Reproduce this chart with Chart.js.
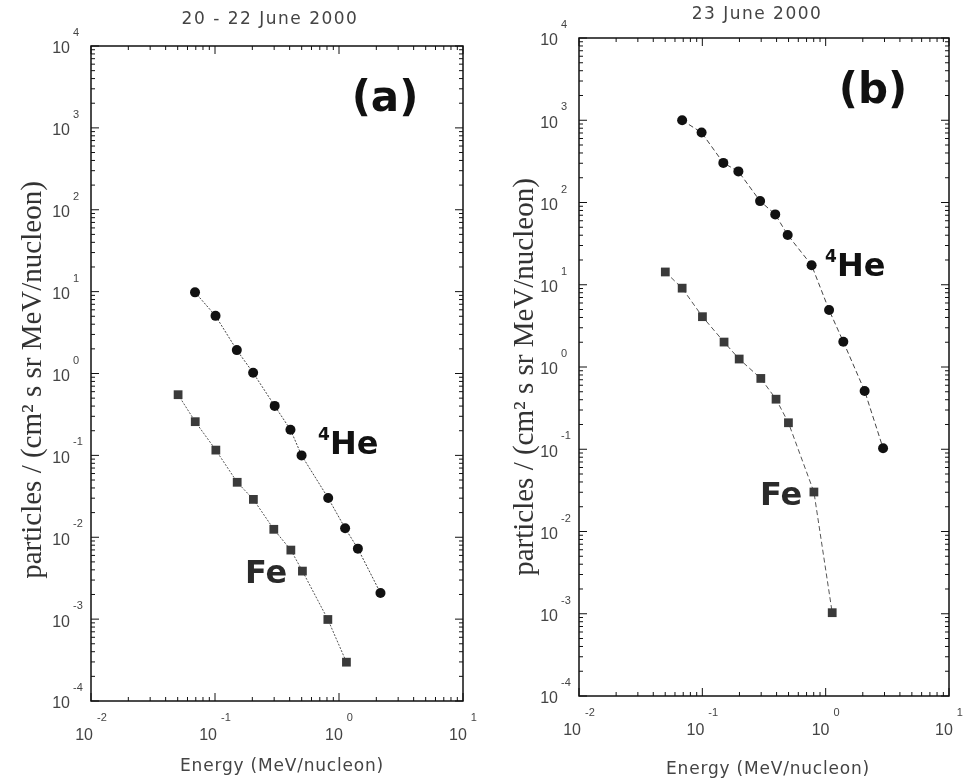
<!DOCTYPE html>
<html lang="en">
<head>
<meta charset="UTF-8" />
<title>Energy spectra, June 2000</title>
<script src="https://cdn.jsdelivr.net/npm/chart.js"></script>
<style>
  html, body { margin: 0; padding: 0; background: #fff; }
  #wrap { position: relative; width: 966px; height: 781px; overflow: hidden; }
  canvas { position: absolute; top: 0; }
  #chartA { left: 0; }
  #chartB { left: 483px; }
</style>
</head>
<body>
<div id="wrap">
  <canvas id="chartA" width="483" height="781"></canvas>
  <canvas id="chartB" width="483" height="781"></canvas>
</div>
<script>
// panel (a): 20 - 22 June 2000
const heEnergyA = [0.069, 0.101, 0.150, 0.203, 0.303, 0.406, 0.499, 0.818, 1.12, 1.42, 2.16];
const heFluxA   = [9.8, 5.06, 1.93, 1.02, 0.402, 0.206, 0.100, 0.0301, 0.0129, 0.00726, 0.00208];
const feEnergyA = [0.0504, 0.0693, 0.1016, 0.151, 0.204, 0.298, 0.409, 0.507, 0.813, 1.148];
const feFluxA   = [0.551, 0.258, 0.116, 0.0469, 0.0290, 0.0125, 0.00697, 0.00386, 0.00099, 0.000298];

// panel (b): 23 June 2000
const heEnergyB = [0.0686, 0.0986, 0.148, 0.196, 0.294, 0.390, 0.492, 0.769, 1.066, 1.39, 2.07, 2.92];
const heFluxB   = [1000, 708, 303, 239, 104, 71.7, 40.3, 17.3, 4.92, 2.03, 0.512, 0.103];
const feEnergyB = [0.0501, 0.0686, 0.1002, 0.150, 0.199, 0.298, 0.396, 0.499, 0.803, 1.13];
const feFluxB   = [14.3, 9.09, 4.09, 2.01, 1.25, 0.726, 0.406, 0.210, 0.0302, 0.00103];

// axis decades (tick labels are 10^n)
const xDecades = [-2, -1, 0, 1];
const yDecades = [-4, -3, -2, -1, 0, 1, 2, 3, 4];

const xTitle = 'Energy (MeV/nucleon)';
const yTitle = 'particles / (cm\u00b2 s sr MeV/nucleon)';

const toPoints = (xs, ys) => xs.map((v, i) => ({ x: v, y: ys[i] }));

const tickFont = '16px "Liberation Sans", Arial, sans-serif';
const expFont = '11px "Liberation Sans", Arial, sans-serif';

// frame, inward log ticks and all the text
const logFrame = {
  id: 'logFrame',
  afterDraw(chart, args, o) {
    const { ctx, chartArea: a, scales: { x, y } } = chart;
    ctx.save();
    ctx.strokeStyle = '#111';
    ctx.lineWidth = 1.5;
    ctx.strokeRect(a.left, a.top, a.right - a.left, a.bottom - a.top);

    ctx.lineWidth = 1;
    ctx.beginPath();
    xDecades.forEach((e, k) => {
      for (let m = 1; m <= (k < xDecades.length - 1 ? 9 : 1); m++) {
        const px = x.getPixelForValue(m * Math.pow(10, e));
        const len = m === 1 ? 8 : 4;
        ctx.moveTo(px, a.bottom); ctx.lineTo(px, a.bottom - len);
        ctx.moveTo(px, a.top); ctx.lineTo(px, a.top + len);
      }
    });
    yDecades.forEach((e, k) => {
      for (let m = 1; m <= (k < yDecades.length - 1 ? 9 : 1); m++) {
        const py = y.getPixelForValue(m * Math.pow(10, e));
        const len = m === 1 ? 8 : 4;
        ctx.moveTo(a.left, py); ctx.lineTo(a.left + len, py);
        ctx.moveTo(a.right, py); ctx.lineTo(a.right - len, py);
      }
    });
    ctx.stroke();

    // tick labels
    ctx.fillStyle = '#444';
    ctx.textBaseline = 'middle';
    yDecades.forEach(e => {
      const py = y.getPixelForValue(Math.pow(10, e));
      ctx.font = tickFont;
      ctx.textAlign = 'right';
      ctx.fillText('10', a.left - 21, py + 3);
      ctx.font = expFont;
      ctx.textAlign = 'left';
      ctx.fillText(String(e), a.left - 18, py - 13);
    });
    xDecades.forEach(e => {
      const px = x.getPixelForValue(Math.pow(10, e));
      ctx.font = tickFont;
      const w1 = ctx.measureText('10').width;
      ctx.font = expFont;
      const w2 = ctx.measureText(String(e)).width;
      const x0 = px - (w1 + 4 + w2) / 2;
      ctx.textAlign = 'left';
      ctx.fillText(String(e), x0 + w1 + 4, a.bottom + 17);
      ctx.font = tickFont;
      ctx.fillText('10', x0, a.bottom + 35);
    });

    // panel title and axis titles
    ctx.fillStyle = '#444';
    ctx.textAlign = 'center';
    ctx.letterSpacing = '1.5px';
    ctx.font = '17px "DejaVu Sans", sans-serif';
    ctx.fillText(o.title, o.titleX, o.titleY);
    ctx.letterSpacing = '0.8px';
    ctx.fillText(xTitle, o.xTitleX, o.xTitleY);
    ctx.letterSpacing = '0px';

    ctx.save();
    ctx.translate(o.yTitleX, o.yTitleY);
    ctx.rotate(-Math.PI / 2);
    ctx.fillStyle = '#333';
    ctx.font = '29px "Liberation Serif", "Times New Roman", serif';
    ctx.fillText(yTitle, 0, 0);
    ctx.restore();

    // panel letter and species labels
    ctx.fillStyle = '#111';
    ctx.font = 'bold 42px "DejaVu Sans", sans-serif';
    ctx.textAlign = 'center';
    ctx.fillText(o.letter, o.letterX, o.letterY);

    ctx.textAlign = 'left';
    ctx.font = 'bold 17px "DejaVu Sans", sans-serif';
    ctx.fillText('4', o.heX - 12, o.heY - 10);
    ctx.font = 'bold 32px "DejaVu Sans", sans-serif';
    ctx.fillText('He', o.heX, o.heY);
    ctx.fillStyle = '#2a2a2a';
    ctx.fillText('Fe', o.feX, o.feY);
    ctx.restore();
  }
};

function makePanel(id, he, fe, pad, xHeight, dash, text) {
  return new Chart(document.getElementById(id), {
    type: 'line',
    data: {
      datasets: [
        {
          data: he,
          borderColor: '#444',
          borderWidth: 1,
          borderDash: dash,
          pointStyle: 'circle',
          pointRadius: 5,
          pointBackgroundColor: '#111',
          pointBorderColor: '#111',
          pointBorderWidth: 0
        },
        {
          data: fe,
          borderColor: '#555',
          borderWidth: 1,
          borderDash: dash,
          pointStyle: 'rect',
          pointRadius: 6.2,
          pointBackgroundColor: '#3a3a3a',
          pointBorderColor: '#3a3a3a',
          pointBorderWidth: 0
        }
      ]
    },
    options: {
      responsive: false,
      animation: false,
      layout: { padding: pad },
      plugins: { legend: { display: false }, tooltip: { enabled: false }, logFrame: text },
      scales: {
        x: {
          type: 'logarithmic', min: 0.01, max: 10,
          grid: { display: false }, border: { display: false },
          ticks: { display: false },
          afterFit: s => { s.height = xHeight; }
        },
        y: {
          type: 'logarithmic', min: 1e-4, max: 1e4,
          grid: { display: false }, border: { display: false },
          ticks: { display: false },
          afterFit: s => { s.width = pad.yWidth; }
        }
      }
    },
    plugins: [logFrame]
  });
}

makePanel('chartA', toPoints(heEnergyA, heFluxA), toPoints(feEnergyA, feFluxA),
  { top: 46, right: 20, left: 0, bottom: 0, yWidth: 91 }, 80, [2, 1.5],
  { title: '20 - 22 June 2000', titleX: 270, titleY: 20,
    xTitleX: 282, xTitleY: 767, yTitleX: 33, yTitleY: 380,
    letter: '(a)', letterX: 385, letterY: 100,
    heX: 330, heY: 446, feX: 245, feY: 575 });

makePanel('chartB', toPoints(heEnergyB, heFluxB), toPoints(feEnergyB, feFluxB),
  { top: 38, right: 17, left: 0, bottom: 0, yWidth: 96 }, 85, [5, 3],
  { title: '23 June 2000', titleX: 274, titleY: 15,
    xTitleX: 285, xTitleY: 770, yTitleX: 42, yTitleY: 377,
    letter: '(b)', letterX: 390, letterY: 92,
    heX: 354, heY: 268, feX: 277, feY: 497 });
</script>
</body>
</html>
